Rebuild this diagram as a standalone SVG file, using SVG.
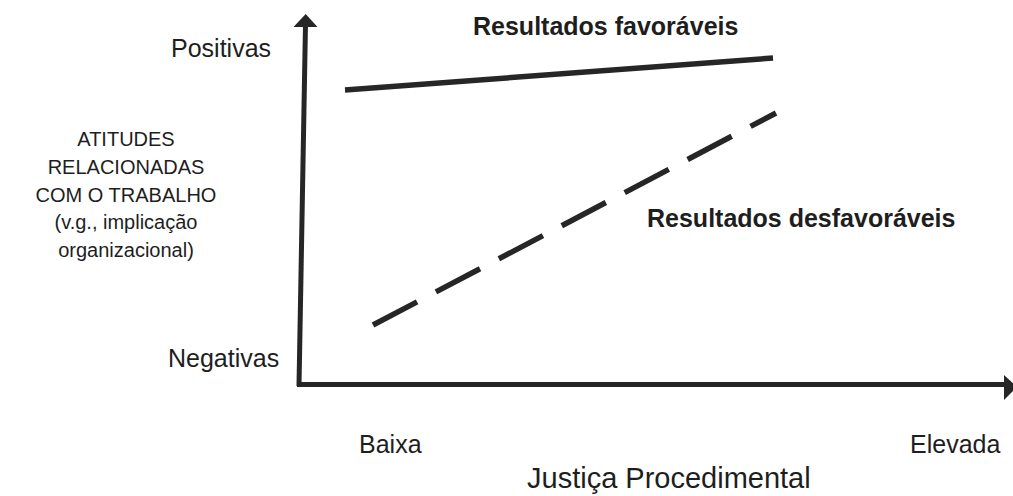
<svg xmlns="http://www.w3.org/2000/svg" width="1013" height="496" viewBox="0 0 1013 496">
<style>
text{font-family:"Liberation Sans",Arial,sans-serif;fill:#1e1e1e}
.lbl{font-size:25px}
.blk{font-size:20px;text-anchor:middle}
.res{font-size:25px;font-weight:bold}
.ttl{font-size:29px}
.ax{stroke:#262626;stroke-width:5;fill:none}
.ln{stroke:#262626;stroke-width:5.5;fill:none}
</style>
<rect width="1013" height="496" fill="#fff"/>
<g id="connectors">
<line class="ax" x1="305.5" y1="24" x2="299" y2="386"/>
<polygon points="305.7,14 317.5,27 293.5,27" fill="#262626"/>
<line class="ax" x1="297" y1="384.5" x2="1006" y2="384.5"/>
<polygon points="1017,387 1004,375 1004,400" fill="#262626"/>
<line id="favoraveis-line" class="ln" x1="345" y1="90" x2="773" y2="58"/>
<line id="desfavoraveis-line" class="ln" x1="373" y1="325" x2="776" y2="113" stroke-dasharray="49.8 21.3"/>
</g>
<g id="label-positivas"><text class="lbl" x="171" y="57">Positivas</text></g>
<g id="label-negativas"><text class="lbl" x="168" y="367">Negativas</text></g>
<g id="label-yaxis">
<text class="blk" x="126" y="146">ATITUDES</text>
<text class="blk" x="126" y="174">RELACIONADAS</text>
<text class="blk" x="126" y="202">COM O TRABALHO</text>
<text class="blk" x="126" y="229">(v.g., implicação</text>
<text class="blk" x="126" y="257">organizacional)</text>
</g>
<g id="label-favoraveis"><text class="res" x="473" y="35">Resultados favoráveis</text></g>
<g id="label-desfavoraveis"><text class="res" x="647" y="227">Resultados desfavoráveis</text></g>
<g id="label-baixa"><text class="lbl" x="359" y="453">Baixa</text></g>
<g id="label-elevada"><text class="lbl" x="910" y="453">Elevada</text></g>
<g id="label-xaxis"><text class="ttl" x="527" y="488">Justiça Procedimental</text></g>
</svg>
